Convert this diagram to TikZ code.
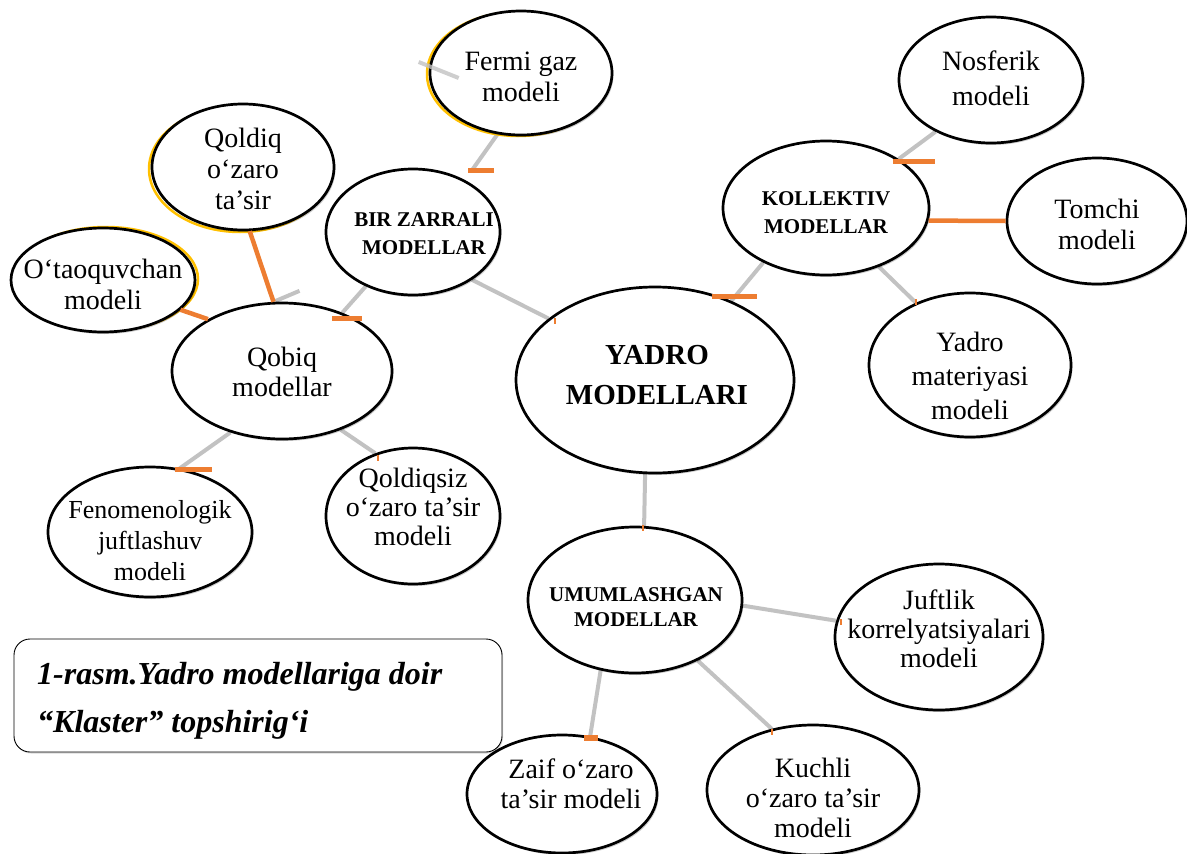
\documentclass[tikz,border=0pt]{standalone}
\usepackage{fontspec}
\setmainfont{Liberation Serif}
\usetikzlibrary{shapes.geometric,shadows,backgrounds}
\definecolor{myorange}{HTML}{ED7D31}
\definecolor{myyellow}{HTML}{FFC000}
\definecolor{linegray}{HTML}{C2C2C2}
\begin{document}
\begin{tikzpicture}[x=1pt,y=-1pt,
 ell/.style={ellipse, draw=black, line width=2.7pt, fill=white, inner sep=0pt,
   drop shadow={shadow xshift=1.5pt, shadow yshift=-2pt, opacity=0.2, fill=black}},
 ylw/.style={ellipse, draw=myyellow, line width=2.5pt, inner sep=0pt},
 txt/.style={align=center, inner sep=0pt, font=\fontsize{28}{31}\selectfont},
 btxt/.style={align=center, inner sep=0pt, font=\bfseries\fontsize{21}{28}\selectfont},
 gl/.style={draw=linegray, line width=4pt},
 ol/.style={draw=myorange, line width=4.5pt},
 obar/.style={draw=myorange, line width=5pt},
 otick/.style={draw=myorange, line width=1.2pt},
 capbox/.style={draw=black, line width=0.9pt, rounded corners=16pt, fill=white, inner sep=0pt,
   drop shadow={shadow xshift=1pt, shadow yshift=-1.5pt, opacity=0.15, fill=black}},
 captxt/.style={anchor=west, align=left, inner sep=0pt, font=\bfseries\itshape\fontsize{32}{48}\selectfont}
]
\useasboundingbox (0,0) rectangle (1187,854);

% yellow offset outlines
\node[ylw, minimum width=182pt, minimum height=124pt] (fermiY) at (518,74) {};
\node[ylw, minimum width=182pt, minimum height=126pt] (qoldiqY) at (240,169) {};
\node[ylw, minimum width=184pt, minimum height=104pt] (otaqY) at (106,279) {};

% ellipses
\node[ell, minimum width=182pt, minimum height=124pt] (fermi) at (521,73) {};
\node[ell, minimum width=174pt, minimum height=126pt] (bir) at (413,232) {};
\node[ell, minimum width=182pt, minimum height=126pt] (qoldiq) at (243,167) {};
\node[ell, minimum width=184pt, minimum height=104pt] (otaq) at (103,280) {};
\node[ell, minimum width=220pt, minimum height=136pt] (qobiq) at (282,371) {};
\node[ell, minimum width=204pt, minimum height=130pt] (fenom) at (150,532) {};
\node[ell, minimum width=174pt, minimum height=136pt] (qsiz) at (413,516) {};
\node[ell, minimum width=278pt, minimum height=186pt] (yadro) at (655,380) {};
\node[ell, minimum width=206pt, minimum height=134pt] (koll) at (826,208) {};
\node[ell, minimum width=184pt, minimum height=126pt] (nosf) at (991,80) {};
\node[ell, minimum width=180pt, minimum height=126pt] (tomchi) at (1097,221) {};
\node[ell, minimum width=202pt, minimum height=144pt] (ymat) at (970,365) {};
\node[ell, minimum width=214pt, minimum height=146pt] (umum) at (635,600) {};
\node[ell, minimum width=208pt, minimum height=146pt] (juft) at (939,637) {};
\node[ell, minimum width=190pt, minimum height=118pt] (zaif) at (562,794) {};
\node[ell, minimum width=212pt, minimum height=130pt] (kuchli) at (813,790) {};

% gray connectors (behind)
\begin{pgfonlayer}{background}
\draw[gl, shorten >=12pt] (fermi.-111) -- (bir.45);
\draw[gl] (bir.-39) -- (yadro.150);
\draw[gl] (bir.-131) -- (qobiq.44);
\draw[gl] (qobiq.97) -- ++(26,-11);
\draw[gl] (qobiq.-130) -- (fenom.65);
\draw[gl] (qobiq.-45) -- (qsiz.121);
\draw[gl] (yadro.46) -- (koll.-139);
\draw[gl] (koll.34) -- (nosf.-137);
\draw[gl] (koll.-48) -- (ymat.131);
\draw[gl] (yadro.-96) -- (umum.83);
\draw[gl] (umum.-3) -- (juft.171);
\draw[gl] (umum.-116) -- (zaif.64);
\draw[gl] (umum.-44) -- (kuchli.124);
\end{pgfonlayer}

% foreground stub
\draw[gl, draw opacity=0.8] ([shift={(-10,-11)}]fermi.west) -- ([shift={(30,5)}]fermi.west);

% orange connectors
\draw[ol] (qoldiq.-84) -- (qobiq.97);
\draw[ol] (otaq.-21) -- (qobiq.145);
\draw[ol] (koll.-7) -- (tomchi.180);

% orange bars
\draw[obar] (468,170) -- (494,170);
\draw[obar] (332,318) -- (362,318);
\draw[obar] (175,469) -- (212,469);
\draw[obar] (712,296) -- (757,296);
\draw[obar] (893,161) -- (935,161);
\draw[obar, line width=6pt] (584,738) -- (598,738);
% tiny ticks
\draw[otick] (555,318) -- (555,324);
\draw[otick] (378,455) -- (378,461);
\draw[otick] (916,299) -- (916,305);
\draw[otick] (643,525) -- (643,531);
\draw[otick] (841,619) -- (841,625);
\draw[otick] (772,729) -- (772,735);

% texts
\node[txt] (fermiT) at (521,77) {Fermi gaz\\modeli};
\node[btxt] (birT) at (424,234) {BIR ZARRALI\\MODELLAR};
\node[txt] (qoldiqT) at (243,169) {Qoldiq\\o‘zaro\\ta’sir};
\node[txt] (otaqT) at (103,284) {O‘taoquvchan\\modeli};
\node[txt, font=\fontsize{28}{30}\selectfont] (qobiqT) at (282,372) {Qobiq\\modellar};
\node[txt, font=\fontsize{26}{31}\selectfont] (fenomT) at (150,541) {Fenomenologik\\juftlashuv\\modeli};
\node[txt, font=\fontsize{28}{29}\selectfont] (qsizT) at (413,507) {Qoldiqsiz\\o‘zaro ta’sir\\modeli};
\node[btxt, font=\bfseries\fontsize{29}{40}\selectfont] (yadroT) at (657,375) {YADRO\\MODELLARI};
\node[btxt] (kollT) at (826,213) {KOLLEKTIV\\MODELLAR};
\node[txt, font=\fontsize{28}{35}\selectfont] (nosfT) at (991,78) {Nosferik\\modeli};
\node[txt] (tomchiT) at (1097,224) {Tomchi\\modeli};
\node[txt, font=\fontsize{28}{34}\selectfont] (ymatT) at (970,376) {Yadro\\materiyasi\\modeli};
\node[btxt, font=\bfseries\fontsize{21}{25}\selectfont] (umumT) at (636,607) {UMUMLASHGAN\\MODELLAR};
\node[txt, font=\fontsize{28}{29}\selectfont] (juftT) at (939,629) {Juftlik\\korrelyatsiyalari\\modeli};
\node[txt, font=\fontsize{28}{30}\selectfont] (zaifT) at (571,784) {Zaif o‘zaro\\ta’sir modeli};
\node[txt, font=\fontsize{28}{30}\selectfont] (kuchliT) at (813,798) {Kuchli\\o‘zaro ta’sir\\modeli};

% caption
\node[capbox, minimum width=488pt, minimum height=113pt] (cap) at (258,695.5) {};
\node[captxt] (capT) at (37,701) {1-rasm.Yadro modellariga doir\\“Klaster” topshirig‘i};
\end{tikzpicture}
\end{document}
